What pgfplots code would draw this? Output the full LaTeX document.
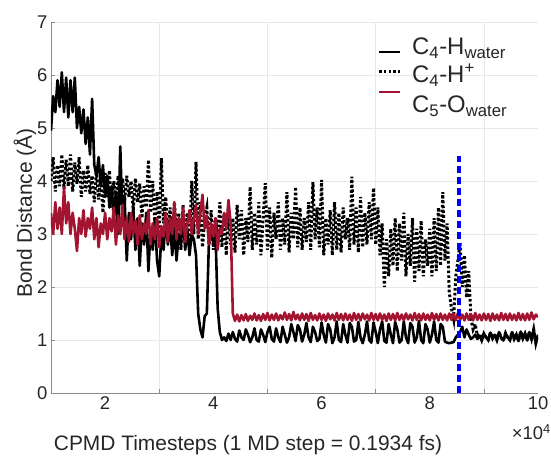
\documentclass[border=0pt]{standalone}
\usepackage{fontspec}
\setmainfont{Liberation Sans}
\usepackage{pgfplots}
\usepackage{pgfplotstable}
\pgfplotsset{compat=1.18}
\definecolor{cred}{RGB}{162,20,47}
\definecolor{txt}{RGB}{38,38,38}
\pgfplotstableread{
x s d r
1.00 4.95 4.00 3.40
1.04 5.60 4.45 3.00
1.08 5.30 3.80 3.60
1.12 5.90 4.30 3.10
1.16 5.40 3.90 3.50
1.20 6.05 4.50 3.00
1.24 5.30 3.85 3.88
1.28 5.95 4.40 3.20
1.32 5.20 3.90 3.60
1.36 5.90 4.50 3.00
1.40 5.30 3.80 3.40
1.44 5.95 4.35 3.10
1.48 5.00 3.95 2.68
1.52 5.40 4.45 3.30
1.56 4.90 3.70 3.00
1.60 5.35 4.20 3.45
1.64 4.70 3.80 2.95
1.68 5.20 4.30 3.30
1.72 4.50 3.75 3.10
1.76 5.55 4.10 3.50
1.80 4.30 3.60 2.90
1.84 4.10 4.20 3.30
1.88 4.45 3.65 2.75
1.92 3.90 4.10 3.20
1.96 4.30 3.40 3.00
2.00 3.70 4.15 3.40
2.04 4.10 3.70 2.90
2.08 3.50 4.20 3.30
2.12 3.90 3.50 3.05
2.16 3.30 4.00 3.50
2.20 3.80 3.60 2.80
2.24 3.00 4.10 3.35
2.28 4.65 3.55 3.00
2.32 3.30 4.05 3.55
2.36 3.70 3.60 2.90
2.40 2.50 4.10 3.30
2.44 3.40 3.70 2.85
2.48 2.90 4.00 3.40
2.52 3.50 3.45 3.00
2.56 2.70 4.05 3.25
2.60 3.30 3.60 2.80
2.64 2.40 3.95 3.35
2.68 3.20 3.30 2.90
2.72 2.80 3.90 3.20
2.76 3.40 3.50 3.00
2.80 2.30 4.40 3.45
2.84 3.10 3.40 2.80
2.88 2.70 4.00 3.20
2.92 3.30 3.20 2.90
2.96 2.50 3.80 3.30
3.00 2.20 3.00 2.75
3.04 3.00 4.43 3.15
3.08 2.70 3.20 2.95
3.12 3.30 3.70 3.40
3.16 2.80 2.90 2.85
3.20 3.20 3.50 3.30
3.24 2.60 2.80 3.00
3.28 3.10 3.60 3.60
3.32 2.50 3.00 2.90
3.36 3.00 3.40 3.30
3.40 2.80 2.70 3.00
3.44 3.30 3.55 3.50
3.48 2.70 2.90 2.85
3.52 3.10 3.40 3.20
3.56 2.60 2.85 3.45
3.60 3.00 4.00 3.00
3.64 2.90 3.00 3.30
3.68 2.60 4.36 3.55
3.72 1.50 2.90 3.00
3.76 1.20 3.60 3.40
3.80 1.05 2.75 3.74
3.84 1.45 3.30 3.10
3.88 1.50 3.50 3.35
3.92 2.90 2.80 2.80
3.96 3.10 3.45 3.20
4.00 2.80 2.70 2.95
4.04 3.00 3.30 3.30
4.08 1.60 2.90 2.70
4.12 1.15 3.60 3.10
4.16 1.00 2.75 3.00
4.20 1.05 3.40 3.40
4.24 0.98 2.60 3.10
4.28 1.12 3.50 3.64
4.32 1.00 2.80 3.20
4.36 1.15 3.30 1.50
4.40 1.02 2.65 1.36
4.44 0.97 3.55 1.48
4.48 1.18 2.90 1.35
4.52 1.05 3.45 1.47
4.56 1.00 2.60 1.37
4.60 1.20 3.30 1.49
4.64 1.10 2.85 1.36
4.68 0.96 3.89 1.46
4.72 1.05 2.70 1.38
4.76 1.22 3.40 1.50
4.80 1.00 2.80 1.37
4.84 0.97 3.60 1.47
4.88 1.20 2.60 1.36
4.92 1.10 3.30 1.49
4.96 0.96 3.96 1.38
5.00 1.15 2.70 1.51
5.04 1.25 3.50 1.37
5.08 1.02 2.55 1.48
5.12 0.97 3.40 1.38
5.16 1.22 2.90 1.50
5.20 1.05 3.60 1.37
5.24 0.96 2.70 1.47
5.28 1.25 3.30 1.39
5.32 1.10 2.80 1.52
5.36 0.95 3.79 1.38
5.40 1.05 2.65 1.49
5.44 1.30 3.40 1.37
5.48 1.15 2.90 1.53
5.52 0.98 3.89 1.39
5.56 1.28 2.75 1.48
5.60 1.20 3.50 1.37
5.64 0.97 2.70 1.50
5.68 1.10 3.30 1.38
5.72 1.32 2.85 1.49
5.76 1.05 3.60 1.36
5.80 0.96 2.70 1.51
5.84 1.25 3.98 1.38
5.88 1.15 2.90 1.47
5.92 0.98 3.50 1.37
5.96 1.02 2.75 1.50
6.00 1.33 4.02 1.38
6.04 1.10 2.60 1.48
6.08 0.95 3.30 1.36
6.12 1.30 2.80 1.50
6.16 1.20 3.45 1.39
6.20 0.94 2.60 1.48
6.24 1.05 3.60 1.37
6.28 1.35 2.70 1.51
6.32 1.00 3.40 1.38
6.36 0.96 2.65 1.49
6.40 1.30 3.50 1.37
6.44 1.10 2.90 1.50
6.48 0.95 3.30 1.38
6.52 1.32 2.70 1.48
6.56 1.25 4.08 1.36
6.60 0.97 2.80 1.51
6.64 1.00 3.50 1.38
6.68 1.34 2.65 1.49
6.72 1.05 3.70 1.37
6.76 0.94 2.75 1.50
6.80 1.10 3.40 1.39
6.84 1.35 2.80 1.48
6.88 1.00 3.60 1.37
6.92 0.95 2.90 1.51
6.96 1.33 3.87 1.38
7.00 1.15 2.80 1.49
7.04 0.94 3.50 1.37
7.08 1.20 2.60 1.50
7.12 1.35 3.20 1.38
7.16 0.98 2.00 1.48
7.20 0.95 2.90 1.36
7.24 1.30 2.20 1.50
7.28 1.10 3.10 1.38
7.32 0.94 2.40 1.49
7.36 1.34 3.30 1.37
7.40 1.20 2.30 1.51
7.44 0.95 3.20 1.38
7.48 1.00 2.50 1.48
7.52 1.35 3.40 1.37
7.56 1.05 2.20 1.50
7.60 0.94 3.00 1.39
7.64 1.32 2.40 1.48
7.68 1.25 3.30 1.37
7.72 0.95 2.10 1.51
7.76 1.05 3.10 1.38
7.80 1.36 2.30 1.49
7.84 1.00 3.25 1.37
7.88 0.94 2.20 1.50
7.92 1.30 2.90 1.38
7.96 1.20 2.40 1.48
8.00 0.95 3.10 1.37
8.04 1.10 2.20 1.51
8.08 1.35 3.30 1.38
8.12 1.00 2.30 1.49
8.16 0.95 3.50 1.37
8.20 1.30 2.40 1.50
8.24 1.25 3.79 1.38
8.28 0.97 2.50 1.48
8.32 0.95 3.20 1.37
8.36 0.94 1.90 1.50
8.40 0.95 1.60 1.38
8.44 0.96 1.40 1.49
8.48 1.05 2.20 1.37
8.52 1.10 2.50 1.51
8.56 1.15 2.83 1.38
8.60 1.25 2.00 1.48
8.64 1.05 2.60 1.37
8.68 1.20 1.80 1.50
8.72 1.10 2.30 1.38
8.76 1.02 1.40 1.49
8.80 1.05 1.20 1.37
8.84 1.10 1.30 1.51
8.88 1.02 1.08 1.38
8.92 1.08 1.12 1.48
8.96 1.00 1.00 1.37
9.00 1.12 1.12 1.50
9.04 1.05 1.05 1.38
9.08 1.00 1.00 1.49
9.12 1.14 1.14 1.36
9.16 1.03 1.03 1.50
9.20 1.10 1.10 1.38
9.24 1.00 1.00 1.48
9.28 1.15 1.15 1.37
9.32 1.04 1.04 1.51
9.36 0.99 0.99 1.38
9.40 1.13 1.13 1.49
9.44 1.05 1.05 1.37
9.48 1.00 1.00 1.50
9.52 1.15 1.15 1.38
9.56 1.02 1.02 1.48
9.60 1.10 1.10 1.37
9.64 0.98 0.98 1.51
9.68 1.16 1.16 1.38
9.72 1.03 1.03 1.49
9.76 1.12 1.12 1.37
9.80 0.99 0.99 1.50
9.84 1.15 1.15 1.38
9.88 1.02 1.02 1.52
9.92 1.20 1.20 1.39
9.96 0.94 0.94 1.48
10.00 1.10 1.10 1.43
}\datatable

\begin{document}
\begin{tikzpicture}[x=1bp,y=1bp]
\useasboundingbox (-51,-65) rectangle (500,393);
\begin{axis}[
  at={(0,0)}, anchor=south west,
  scale only axis, width=487bp, height=371bp,
  xmin=1, xmax=10, ymin=0, ymax=7,
  axis x line*=bottom, axis y line*=left,
  axis line style={-, black!45, line width=0.8bp},
  every outer x axis line/.append style={-},
  every outer y axis line/.append style={-},
  xtick={3,5,7,9}, xticklabels={},
  extra x ticks={2,4,6,8,10},
  extra x tick labels={2,4,6,8,10},
  extra x tick style={grid=none, major tick length=0pt},
  ytick={0,1,2,3,4,5,6,7},
  grid=major,
  major grid style={black!9, line width=0.6bp},
  tick style={black!45, line width=0.6bp},
  tick align=inside, major tick length=4bp,
  ticklabel style={font=\fontsize{18.5}{20}\selectfont, text=txt},
  /pgf/number format/assume math mode=true,
  xlabel={CPMD Timesteps (1 MD step = 0.1934 fs)},
  ylabel={Bond Distance (Å)},
  label style={font=\fontsize{21}{24}\selectfont, text=txt},
  xlabel style={at={(axis description cs:0.4045,-0.14)}, anchor=center},
  ylabel style={at={(axis description cs:-0.0534,0.485)}, anchor=center},
]
\addplot[black, line width=2.6bp, line join=round] table[x=x, y=s]{\datatable};
\addplot[black, line width=3bp, dash pattern=on 2.6bp off 2.2bp] table[x=x, y=d]{\datatable};
\addplot[cred, line width=2.6bp, line join=round] table[x=x, y=r]{\datatable};
\addplot[blue, line width=3.5bp, dash pattern=on 7bp off 4bp] coordinates {(8.54,0) (8.54,4.47)};
\end{axis}
\draw[black, line width=2.6bp] (328,341) -- (349,341);
\draw[black, line width=3bp, dash pattern=on 2.6bp off 2.2bp] (328,321) -- (349,321);
\draw[cred, line width=2.6bp] (328,301) -- (349,301);
\node[anchor=base west, inner sep=0, font=\fontsize{24}{26}\selectfont, text=txt] at (361,338) {C\textsubscript{4}-H\textsubscript{water}};
\node[anchor=base west, inner sep=0, font=\fontsize{24}{26}\selectfont, text=txt] at (361,310) {C\textsubscript{4}-H\textsuperscript{+}};
\node[anchor=base west, inner sep=0, font=\fontsize{24}{26}\selectfont, text=txt] at (361,280) {C\textsubscript{5}-O\textsubscript{water}};
\node[anchor=base east, inner sep=0, font=\fontsize{18.5}{20}\selectfont, text=txt] at (500,-47) {×10\textsuperscript{4}};
\end{tikzpicture}
\end{document}
